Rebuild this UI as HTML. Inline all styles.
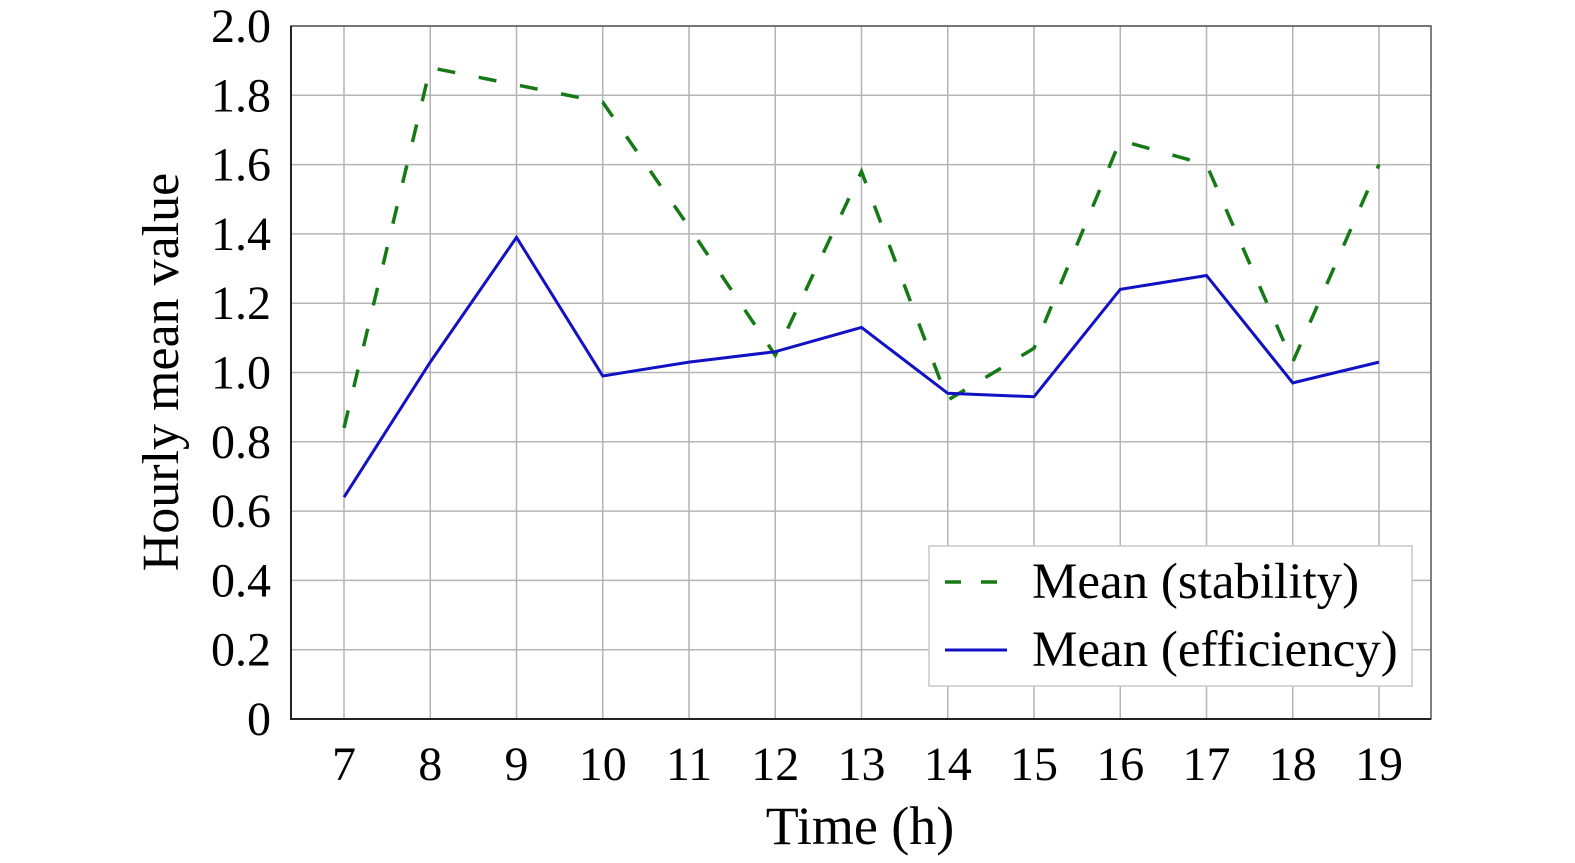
<!DOCTYPE html>
<html><head><meta charset="utf-8"><style>
html,body{margin:0;padding:0;background:#fff;width:1575px;height:863px;overflow:hidden}
svg text{font-family:"Liberation Serif",serif;fill:#000}
</style></head><body>
<svg id="chart" width="1575" height="863" xmlns="http://www.w3.org/2000/svg"></svg>
<script>
const hours = [7,8,9,10,11,12,13,14,15,16,17,18,19];
const stability = [0.84,1.88,1.83,1.78,1.42,1.05,1.58,0.92,1.07,1.67,1.60,1.03,1.60];
const efficiency = [0.64,1.03,1.39,0.99,1.03,1.06,1.13,0.94,0.93,1.24,1.28,0.97,1.03];
const yTicks = ["0","0.2","0.4","0.6","0.8","1.0","1.2","1.4","1.6","1.8","2.0"];

const svg = document.getElementById('chart');
const NS = 'http://www.w3.org/2000/svg';
const L=291,R=1431,T=26,B=719;
const xS = h => 344 + (h-7)*(1379-344)/12;
const yS = v => B - v*(B-T)/2;
function mk(tag, attrs, parent){const e=document.createElementNS(NS,tag);for(const k in attrs)e.setAttribute(k,attrs[k]);(parent||svg).appendChild(e);return e;}

yTicks.forEach(t=>{const v=parseFloat(t);const y=yS(v);
  const g=mk('line',{x1:L,x2:R,y1:y,y2:y,stroke:'#b4b4b4','stroke-width':1.5});
  
  
  const tx=mk('text',{x:271,y:y+16,'font-size':48,'text-anchor':'end'});tx.textContent=t;
  
  
});
hours.forEach(h=>{const x=xS(h);
  const g=mk('line',{x1:x,x2:x,y1:T,y2:B,stroke:'#b4b4b4','stroke-width':1.5});
  
  
  const tx=mk('text',{x:x,y:780,'font-size':48,'text-anchor':'middle'});tx.textContent=h;
  
  
});
const frame=mk('rect',{x:L,y:T,width:R-L,height:B-T,fill:'none',stroke:'#555','stroke-width':1.5});


const ax=mk('path',{d:`M${L},${T} V${B} H${R}`,fill:'none',stroke:'#222','stroke-width':2});



const ps=mk('polyline',{points:hours.map((h,i)=>xS(h)+','+yS(stability[i])).join(' '),fill:'none',stroke:'#157a15','stroke-width':3.5,'stroke-dasharray':'18 24'});


const pe=mk('polyline',{points:hours.map((h,i)=>xS(h)+','+yS(efficiency[i])).join(' '),fill:'none',stroke:'#1212c4','stroke-width':3});



const lg=mk('g',{});


mk('rect',{x:929,y:546,width:483,height:140,fill:'#fff',stroke:'#c8c8c8','stroke-width':1.5},lg);
mk('line',{x1:945,x2:1007,y1:582,y2:582,stroke:'#157a15','stroke-width':3.5,'stroke-dasharray':'16 20'},lg);
mk('line',{x1:945,x2:1007,y1:650,y2:650,stroke:'#1212c4','stroke-width':3},lg);
const t1=mk('text',{x:1032,y:598,'font-size':51},lg);t1.textContent='Mean (stability)';


const t2=mk('text',{x:1032,y:666,'font-size':51},lg);t2.textContent='Mean (efficiency)';



const xt=mk('text',{x:860,y:844,'font-size':54,'text-anchor':'middle'});xt.textContent='Time (h)';


const yt=mk('text',{x:0,y:0,'font-size':52,'text-anchor':'middle',transform:'translate(178,372) rotate(-90)'});yt.textContent='Hourly mean value';


</script>
</body></html>
